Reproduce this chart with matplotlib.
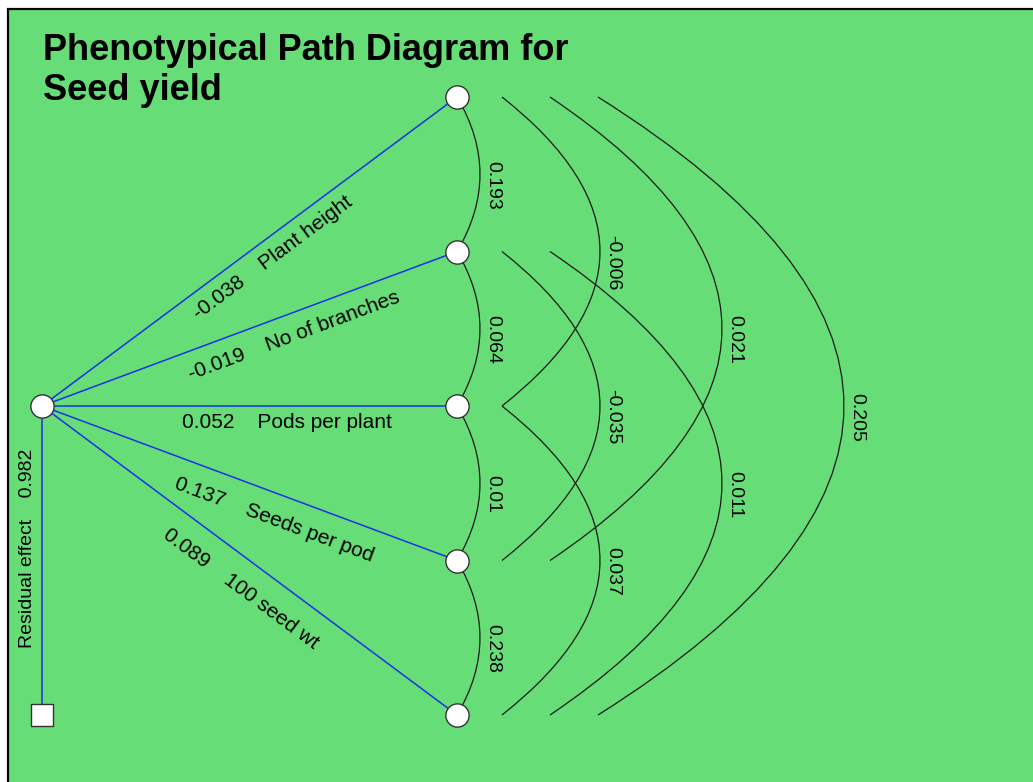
import numpy as np
import matplotlib.pyplot as plt
from matplotlib.path import Path
from matplotlib.patches import PathPatch, Rectangle

plt.rcParams['font.family'] = ['Liberation Sans', 'DejaVu Sans']

# traits and their direct effects on seed yield
traits = ['Plant height', 'No of branches', 'Pods per plant', 'Seeds per pod', '100 seed wt']
direct = [-0.038, -0.019, 0.052, 0.137, 0.089]
residual = 0.982

# correlations between traits (index pairs) and their values
pairs = [(0, 1), (1, 2), (2, 3), (3, 4),
         (0, 2), (1, 3), (2, 4),
         (0, 3), (1, 4),
         (0, 4)]
r_vals = [0.193, 0.064, 0.01, 0.238,
          -0.006, -0.035, 0.037,
          0.021, 0.011,
          0.205]

# layout in pixels
src = (42, 406)
node_x = 457
node_y = 97 + 154.5 * np.arange(len(traits))
box_y = 715
lab_t = [0.53, 0.59, 0.59, 0.58, 0.52]
lab_off = [19, 22, 16, 26, 28]

green = '#66dd77'
blue = '#1a33e6'
dark = '#1a1a1a'

fig = plt.figure(figsize=(10.33, 7.82), dpi=100)
ax = fig.add_axes([0, 0, 1, 1])
ax.set_xlim(0, 1033)
ax.set_ylim(782, 0)
ax.axis('off')

# green panel, only left/top edges visible
ax.add_patch(Rectangle((8, 9), 1100, 900, facecolor=green, edgecolor='black', lw=1.6, zorder=0))

ax.text(43, 60, 'Phenotypical Path Diagram for', fontsize=26, fontweight='bold', va='baseline')
ax.text(43, 100, 'Seed yield', fontsize=26, fontweight='bold', va='baseline')

# direct paths
for i, (name, v) in enumerate(zip(traits, direct)):
    x1, y1 = node_x, node_y[i]
    ax.plot([src[0], x1], [src[1], y1], color=blue, lw=1.1, zorder=2)
    dx, dy = x1 - src[0], y1 - src[1]
    L = np.hypot(dx, dy)
    cx = src[0] + lab_t[i] * dx - lab_off[i] * dy / L
    cy = src[1] + lab_t[i] * dy + lab_off[i] * dx / L
    ang = np.degrees(np.arctan2(-dy, dx))
    ax.text(cx, cy, f'{v:g}    {name}', rotation=ang, rotation_mode='anchor',
            ha='center', va='center', fontsize=15)

# residual
ax.plot([src[0], src[0]], [src[1], box_y], color=blue, lw=1.1, zorder=2)
ax.text(28, 548, f'Residual effect    {residual:g}', rotation=90,
        ha='center', va='center', fontsize=14)

# correlation arcs
for (i, j), r in zip(pairs, r_vals):
    k = j - i
    if k == 1:
        x0, peak = node_x, node_x + 23
    else:
        x0 = 502 + 48 * (k - 2)
        peak = 600 + 122 * (k - 2)
    ctrl = 2 * peak - x0
    ya, yb = node_y[i], node_y[j]
    path = Path([(x0, ya), (ctrl, (ya + yb) / 2), (x0, yb)],
                [Path.MOVETO, Path.CURVE3, Path.CURVE3])
    ax.add_patch(PathPatch(path, fill=False, ec=dark, lw=0.9, zorder=2))
    ax.text(peak + 13, (ya + yb) / 2 + 11, f'{r:g}', rotation=270,
            ha='center', va='center', fontsize=14)

# nodes
ax.scatter(np.full(len(traits), node_x), node_y, s=280, c='white',
           edgecolors='#333333', linewidths=1, zorder=4)
ax.scatter([src[0]], [src[1]], s=280, c='white', edgecolors='#333333', linewidths=1, zorder=4)
ax.scatter([src[0]], [box_y], s=260, marker='s', c='white', edgecolors='#333333', linewidths=1, zorder=4)

fig.savefig('out.png', dpi=100, facecolor='white')
